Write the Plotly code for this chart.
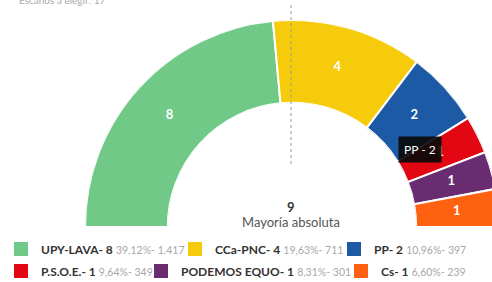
import plotly.graph_objects as go

parties = ["UPY-LAVA", "CCa-PNC", "PP", "P.S.O.E.", "PODEMOS EQUO", "Cs"]
seats = [8, 4, 2, 1, 1, 1]
pcts = ["39,12%", "19,63%", "10,96%", "9,64%", "8,31%", "6,60%"]
votes = ["1.417", "711", "397", "349", "301", "239"]
colors = ["#70c987", "#f6cb0c", "#1c5aa6", "#e30613", "#6a2c70", "#fe6210"]
majority = 9
title_text = "Escaños a elegir: 17"

W, H = 500, 282
total = sum(seats)
deg = 180.0 / total

# legend entry anchor (px from left) and row centre (px from top)
leg_x = [1, 175, 334, 1, 141, 341]
leg_y = [249, 249, 249, 271, 271, 271]

fig = go.Figure()
start = 0
centers = []
for i, (p, s, c) in enumerate(zip(parties, seats, colors)):
    center = (start + s / 2) * deg
    centers.append(center)
    start += s
    fig.add_trace(go.Barpolar(
        r=[1], theta=[center], width=[s * deg], base=0,
        marker=dict(color=c, line=dict(color="white", width=2)),
        name=p, showlegend=False, hoverinfo="skip",
    ))

for i, (p, s, pc, v, c) in enumerate(zip(parties, seats, pcts, votes, colors)):
    name = (f"<b>{p}- {s}</b> "
            f"<span style='font-size:10.5px;color:#a8a8a8'>{pc}- {v}</span>")
    fig.add_trace(go.Scatterpolar(
        r=[None], theta=[None], mode="markers",
        marker=dict(symbol="square", size=14, color=c),
        name=name, legend="legend" if i == 0 else f"legend{i + 1}",
        hoverinfo="skip",
    ))

fig.add_trace(go.Scatterpolar(
    r=[0.5] * len(seats), theta=centers, mode="text",
    text=[str(s) for s in seats],
    textfont=dict(color="white", size=13, family="Lato", weight="bold"),
    showlegend=False, hoverinfo="skip",
))

legends = {}
for i in range(len(parties)):
    key = "legend" if i == 0 else f"legend{i + 1}"
    legends[key] = dict(orientation="h", x=leg_x[i] / W,
                        xanchor="left", y=1 - leg_y[i] / H,
                        yanchor="middle", font=dict(size=12, color="#333"),
                        bgcolor="rgba(0,0,0,0)", itemwidth=30)

fig.update_layout(
    width=W, height=H,
    margin=dict(l=0, r=0, t=0, b=0, autoexpand=False),
    paper_bgcolor="white",
    font=dict(family="Lato", color="#333"),
    polar=dict(
        domain=dict(x=[85 / W, 499 / W], y=[(H - 227) / H, (H - 20) / H]),
        sector=[0, 180],
        hole=0.6,
        bgcolor="rgba(0,0,0,0)",
        radialaxis=dict(range=[0, 1], visible=False, showgrid=False),
        angularaxis=dict(visible=False, rotation=180, direction="clockwise",
                         showgrid=False),
    ),
    shapes=[dict(type="line", xref="paper", yref="paper",
                 x0=291 / W, x1=291 / W, y0=1 - 5 / H, y1=1 - 165 / H,
                 line=dict(color="#999", width=1, dash="dot"))],
    annotations=[
        dict(text=f"<b>{majority}</b>", x=291 / W, y=1 - 207 / H,
             xanchor="center", yanchor="middle",
             xref="paper", yref="paper", showarrow=False,
             font=dict(size=13, color="#333")),
        dict(text="Mayoría absoluta", x=291 / W, y=1 - 222 / H,
             xanchor="center", yanchor="middle",
             xref="paper", yref="paper", showarrow=False,
             font=dict(size=13, color="#555")),
        dict(text=title_text, x=17 / W, y=1.0, xanchor="left",
             yanchor="middle", xref="paper", yref="paper", showarrow=False,
             font=dict(size=10, color="#aaa")),
        dict(text="PP - 2", x=420 / W, y=1 - 149 / H,
             xanchor="center", yanchor="middle",
             xref="paper", yref="paper", showarrow=False,
             bgcolor="rgba(10,10,10,0.92)", borderpad=5,
             font=dict(size=12, color="white")),
    ],
    **legends,
)

fig.write_html(
    "out.html",
    config={"displayModeBar": False},
    post_script="document.body.style.margin='0';"
                "document.body.style.overflow='hidden';",
)
